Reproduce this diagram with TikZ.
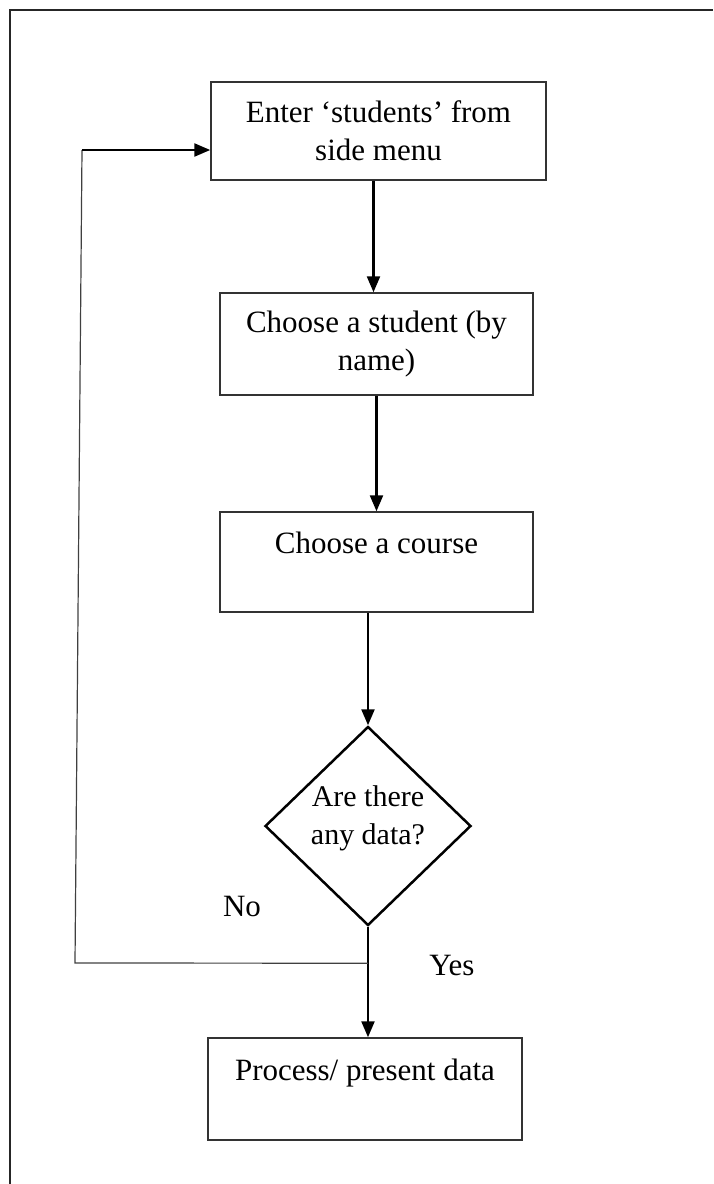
\documentclass[tikz,border=0pt]{standalone}
\usepackage{fontspec}
\setmainfont{Liberation Serif}
\usetikzlibrary{shapes.geometric,arrows.meta,calc}
\begin{document}
\begin{tikzpicture}[x=1pt,y=-1pt,
  stepbox/.style={draw=black!80,line width=1.5pt,rectangle,inner sep=0pt,
    align=center,font=\fontsize{31}{38}\selectfont},
  decbox/.style={draw=black,line width=2.5pt,diamond,inner sep=0pt,
    minimum width=206pt,minimum height=199pt},
  lbl/.style={font=\fontsize{31}{38}\selectfont,inner sep=0pt},
  flow/.style={line width=2.4pt,-{Triangle[length=16pt,width=13pt]}},
  back/.style={line width=1.2pt,black!75}]
\useasboundingbox (0,0) rectangle (713,1184);
% page frame (cut off on the right and at the bottom)
\draw[line width=2.5pt,black!85] (10,1184) -- (10,10) -- (713,10);

\node[stepbox,minimum width=335pt,minimum height=98pt] (b1) at (378.5,131)
  {Enter ‘students’ from\\side menu};
\node[stepbox,minimum width=313pt,minimum height=102pt] (b2) at (376.5,344)
  {Choose a student (by\\name)};
\node[stepbox,minimum width=313pt,minimum height=100pt] (b3) at (376.5,562)
  {Choose a course\\\mbox{}};
\node[decbox] (dec) at (368,826) {};
\node[lbl,align=center,font=\fontsize{30}{38}\selectfont] (dect) at (368,818) {Are there\\any data?};
\node[stepbox,minimum width=314pt,minimum height=102pt] (b4) at (365,1089)
  {Process/ present data\\\mbox{}};

\node[lbl] (no) at (242,906) {No};
\node[lbl] (yes) at (452,965) {Yes};

\draw[flow] ([xshift=-5pt]b1.south) -- ([xshift=-5pt]b1.south |- b2.north);
\draw[flow] (b2.south) -- (b2.south |- b3.north);
\draw[flow] (b3.south -| dec.north) -- (dec.north);
\draw[flow] (dec.south) -- (dec.south |- b4.north);

% "No" branch back to the start
\coordinate (j) at ($(dec.south)!0.33!(dec.south |- b4.north)$);
\coordinate (fb1) at (75,963);
\coordinate (fb2) at (82,150);
\draw[back] (j) -- (fb1) -- (fb2);
\draw[flow] (fb2) -- (b1.west |- fb2);
\end{tikzpicture}
\end{document}
